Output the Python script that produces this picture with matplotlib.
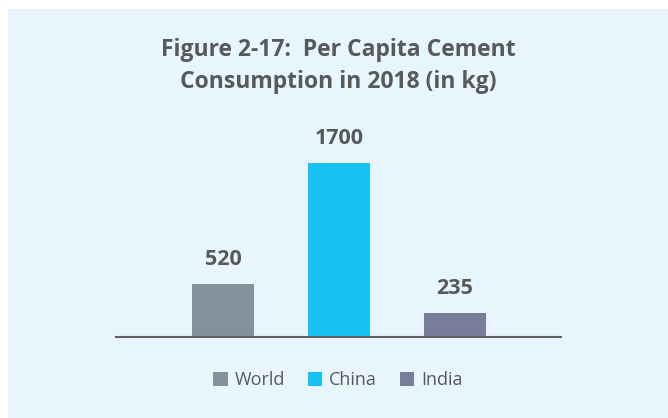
import matplotlib.pyplot as plt
from matplotlib.patches import Rectangle

categories = ["World", "China", "India"]
values = [520, 1700, 235]
colors = ["#84919a", "#16c2f2", "#787d99"]

TEXT = "#58595b"
BG = "#e8f5fc"


def main():
    plt.rcParams["font.family"] = ["Open Sans", "DejaVu Sans"]
    fig = plt.figure(figsize=(6.68, 4.18), dpi=100)
    fig.patch.set_facecolor("white")
    # light blue panel behind everything
    fig.patches.append(Rectangle((8 / 668, 0), 1, 1 - 9 / 418, transform=fig.transFigure,
                                 facecolor=BG, edgecolor="none", zorder=-1))

    ax = fig.add_axes([116 / 668, 1 - 337 / 418, 445 / 668, 217 / 418])
    ax.set_facecolor("none")
    ax.set_zorder(2)
    x = range(len(categories))
    bars = ax.bar(x, values, width=0.535, color=colors, label=categories, zorder=2)
    for b, v in zip(bars, values):
        ax.annotate(str(v), (b.get_x() + b.get_width() / 2, v), xytext=(0, 10),
                    textcoords="offset points", ha="center", va="bottom",
                    fontsize=15.5, fontweight="bold", color=TEXT)

    ax.set_xlim(-0.922, 2.914)
    ax.set_ylim(0, 2120)
    for s in ["top", "right", "left"]:
        ax.spines[s].set_visible(False)
    ax.spines["bottom"].set_color("#5f6062")
    ax.spines["bottom"].set_linewidth(1.5)
    ax.set_xticks([])
    ax.set_yticks([])

    fig.text(338 / 668, 1 - 66 / 418, "Figure 2-17:  Per Capita Cement\nConsumption in 2018 (in kg)",
             ha="center", va="center", fontsize=16.5, fontweight="bold", color=TEXT,
             linespacing=1.45)

    leg = fig.legend(handles=list(bars), labels=categories, loc="center",
                     bbox_to_anchor=(338 / 668, 1 - 380 / 418), ncol=3, frameon=False,
                     fontsize=13, handlelength=0.8, handleheight=0.8, handletextpad=0.4,
                     columnspacing=1.25)
    for t in leg.get_texts():
        t.set_color(TEXT)

    fig.savefig("out.png", dpi=100)


if __name__ == '__main__':
    main()
